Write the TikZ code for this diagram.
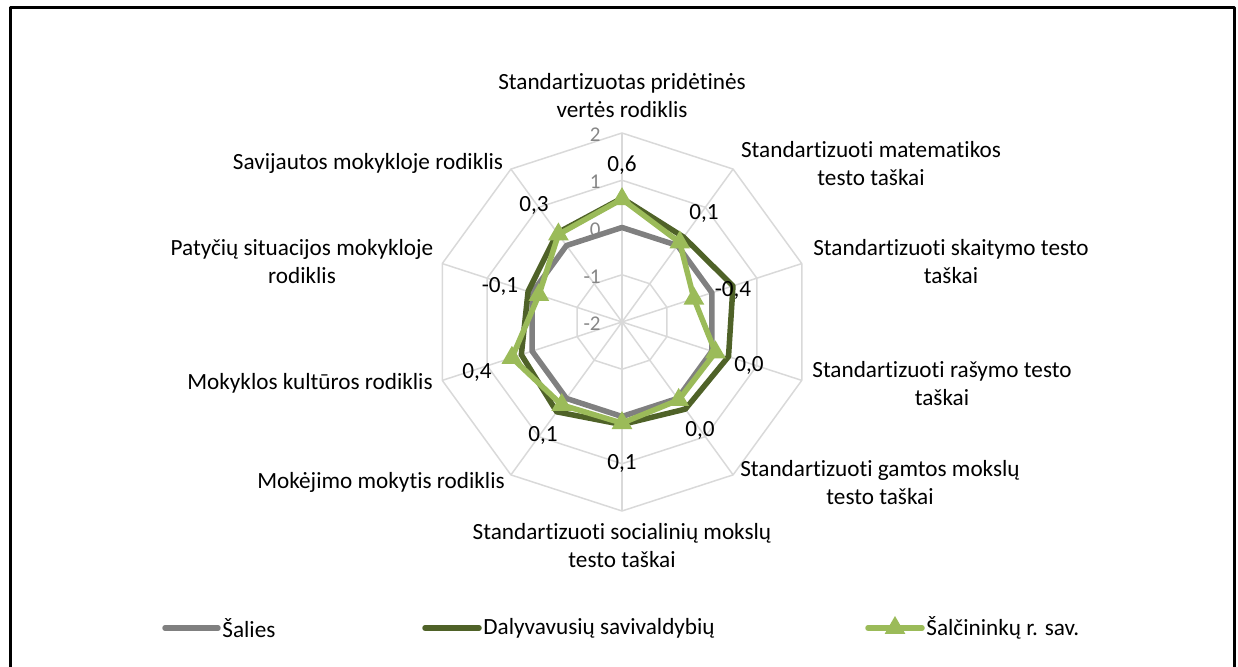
\documentclass[tikz,border=0pt]{standalone}
\usepackage{fontspec}
\setmainfont{Carlito}[Ligatures=NoCommon]
\usetikzlibrary{shapes.geometric,calc}

\begin{document}
\begin{tikzpicture}[x=0.5pt,y=0.5pt,line join=round]
  % Local definitions
  \def\unitr{47.25}

  % Colors
  \definecolor{gridcolor}{RGB}{217,217,217}
  \definecolor{tickcolor}{RGB}{134,134,134}
  \definecolor{salcolor}{RGB}{128,128,128}
  \definecolor{dalcolor}{RGB}{79,98,40}
  \definecolor{sclcolor}{RGB}{155,187,89}

  % Styles
  \tikzstyle{grid line}=[gridcolor,line width=0.75pt]
  \tikzstyle{series line}=[line width=2.75pt]
  \tikzstyle{axis label}=[align=center,inner sep=0pt,font=\fontsize{11.6}{14}\selectfont]
  \tikzstyle{value label}=[inner sep=0pt,font=\fontsize{11.6}{14}\selectfont]
  \tikzstyle{tick label}=[tickcolor,anchor=east,inner sep=0pt,font=\fontsize{10.5}{12}\selectfont]
  \tikzstyle{marker}=[regular polygon,regular polygon sides=3,fill=sclcolor,
    minimum size=12pt,inner sep=0pt]
  \tikzstyle{legend text}=[anchor=west,inner sep=0pt,font=\fontsize{11.6}{14}\selectfont]

  % The graphic
  \useasboundingbox (0,0) rectangle (1238,667);
  \draw[line width=1.5pt] (10,0) -- (10,659) -- (1234,659) -- (1234,0);

  \begin{scope}[shift={(622,345)}]
    % rings and spokes
    \foreach \r in {1,2,3,4}
      \draw[grid line] (90:\r*\unitr)
        \foreach \k in {1,...,9} { -- ({90-36*\k}:\r*\unitr) } -- cycle;
    \foreach \k in {0,...,9}
      \draw[grid line] (0,0) -- ({90-36*\k}:4*\unitr);

    \foreach \v [count=\i] in {2,1,0,-1,-2}
      \node[tick label] (tick\i) at (-21,{(\v+2)*\unitr-2}) {\v};

    % series points
    \foreach \v [count=\k from 0] in {0,0,0,0,0,0,0,0,0,0}
      \coordinate (g\k) at ({90-36*\k}:{(\v+2)*\unitr});
    \foreach \v [count=\k from 0] in {0.62,0.22,0.47,0.37,0.28,0.17,0.35,0.24,0.09,0.33}
      \coordinate (d\k) at ({90-36*\k}:{(\v+2)*\unitr});
    \foreach \v [count=\k from 0] in {0.6,0.08,-0.4,0.08,0.04,0.14,0.17,0.45,-0.15,0.29}
      \coordinate (s\k) at ({90-36*\k}:{(\v+2)*\unitr});

    \draw[series line,salcolor] (g0) \foreach \k in {1,...,9} { -- (g\k) } -- cycle;
    \draw[series line,dalcolor] (d0) \foreach \k in {1,...,9} { -- (d\k) } -- cycle;
    \draw[series line,sclcolor] (s0) \foreach \k in {1,...,9} { -- (s\k) } -- cycle;
    \foreach \k in {0,...,9}
      \node[marker] (m\k) at (s\k) {};

    % data labels
    \foreach \x/\y/\t [count=\k from 0] in {0/157/0{,}6, 82/109/0{,}1, 111/32/-0{,}4,
        127/-43/0{,}0, 78/-108/0{,}0, 0/-141/0{,}1, -79/-113/0{,}1,
        -145/-50/0{,}4, -122/36/-0{,}1, -88/117/0{,}3}
      \node[value label] (val\k) at (\x,\y) {\t};
  \end{scope}

  % category labels
  \node[axis label] (c0) at (622,571) {Standartizuotas pridėtinės\\vertės rodiklis};
  \node[axis label] (c1) at (871,503) {Standartizuoti matematikos\\testo taškai};
  \node[axis label] (c2) at (951,405) {Standartizuoti skaitymo testo\\taškai};
  \node[axis label] (c3) at (942,283) {Standartizuoti rašymo testo\\taškai};
  \node[axis label] (c4) at (880,184) {Standartizuoti gamtos mokslų\\testo taškai};
  \node[axis label] (c5) at (622,121) {Standartizuoti socialinių mokslų\\testo taškai};
  \node[axis label] (c6) at (381,185) {Mokėjimo mokytis rodiklis};
  \node[axis label] (c7) at (310,284) {Mokyklos kultūros rodiklis};
  \node[axis label] (c8) at (302,405) {Patyčių situacijos mokykloje\\rodiklis};
  \node[axis label] (c9) at (368,504) {Savijautos mokykloje rodiklis};

  % legend
  \node[legend text] (lsal) at (222,39) {Šalies};
  \node[legend text] (ldal) at (483,39) {Dalyvavusių savivaldybių};
  \node[legend text] (lscl) at (926,39) {Šalčininkų r. sav.};
  \draw[series line,salcolor,line cap=round] (lsal.west) ++(-4,0) -- ++(-53,0);
  \draw[series line,dalcolor,line cap=round] (ldal.west) ++(-4,0) -- ++(-54,0);
  \draw[series line,sclcolor,line cap=round] (lscl.west) ++(-4,0) coordinate (lsr) -- ++(-54,0) coordinate (lsl);
  \node[marker] (lmark) at ($(lsr)!0.5!(lsl)$) {};
\end{tikzpicture}
\end{document}
